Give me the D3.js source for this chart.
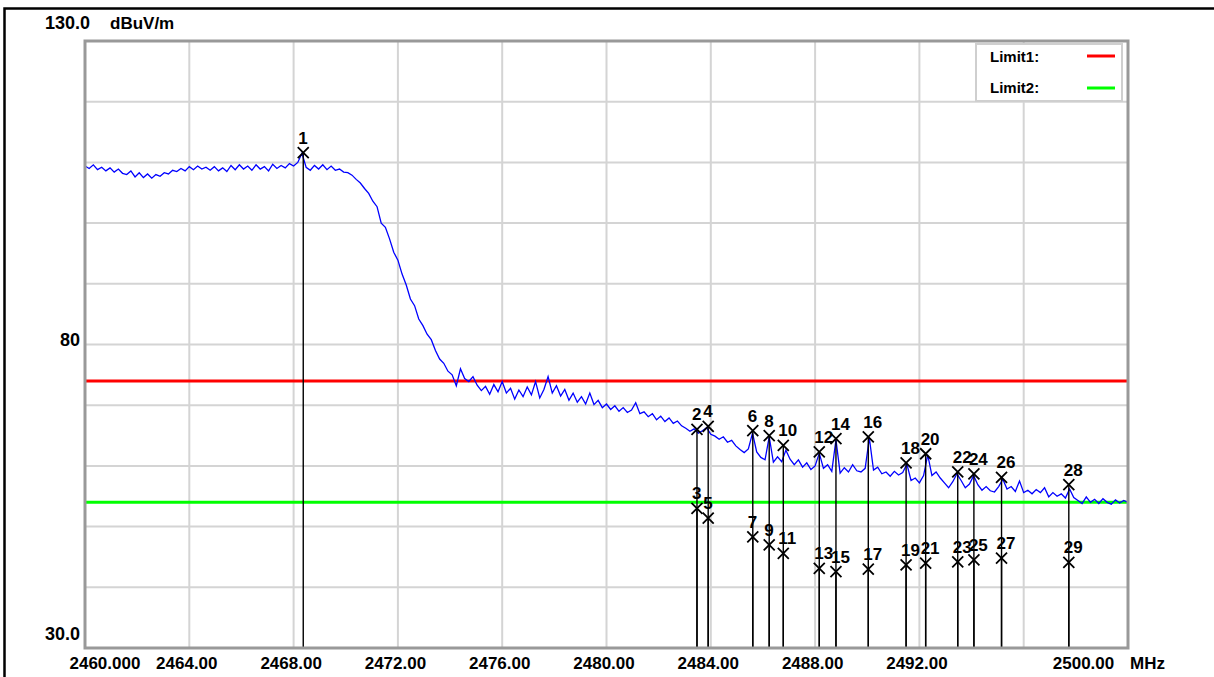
<!DOCTYPE html>
<html>
<head>
<meta charset="utf-8">
<script src="https://cdnjs.cloudflare.com/ajax/libs/d3/7.8.5/d3.min.js"></script>
<style>
  body { margin: 0; background: #fff; overflow: hidden; }
  svg { display: block; }
  text { font-family: "Liberation Sans", Arial, sans-serif; font-weight: bold; fill: #000; }
</style>
</head>
<body>
<div id="chart"></div>
<script>
// spectrum sweep (dBuV/m), one point every 0.16 MHz from 2460 MHz
var traceStart = 2460, traceStep = 0.16;
var traceLevel = [
  109.4, 109.0, 109.6, 108.8, 109.2, 108.6, 109.1, 108.4, 108.9, 108.2,
  108.0, 108.6, 107.6, 108.3, 107.5, 108.1, 107.4, 108.0, 107.7, 108.3,
  108.1, 108.7, 108.5, 109.0, 108.6, 109.3, 108.8, 109.4, 108.9, 109.2,
  108.7, 109.3, 108.6, 109.1, 108.5, 109.5, 108.8, 109.6, 108.9, 109.4,
  108.7, 109.6, 108.9, 109.3, 108.6, 109.7, 109.0, 109.5, 109.1, 109.8,
  109.4, 110.0, 111.5, 109.2, 108.7, 109.5, 108.9, 109.6, 108.8, 109.4,
  108.7, 108.9, 108.4, 108.3, 107.9, 107.2, 106.6, 105.7, 104.9, 103.6,
  102.7, 100.0, 99.3, 97.4, 95.2, 93.9, 91.6, 89.8, 87.5, 86.4,
  84.2, 83.1, 81.7, 80.8, 79.0, 77.6, 76.9, 75.6, 75.0, 73.2,
  76.0, 74.4, 73.9, 74.7, 73.3, 72.4, 73.1, 71.8, 73.4, 72.2,
  73.9, 72.0, 72.8, 71.0, 72.5, 71.4, 73.0, 71.7, 73.9, 71.2,
  72.6, 74.7, 72.0, 73.2, 71.5, 72.6, 70.8, 72.0, 70.5, 71.4,
  70.2, 72.0, 70.1, 70.8, 69.6, 70.2, 69.3, 69.9, 69.0, 69.6,
  68.8, 69.2, 70.4, 68.6, 68.9, 68.1, 68.6, 67.6, 68.2, 67.3,
  67.9, 67.0, 67.4, 66.6, 66.2, 65.7, 66.1, 65.4, 65.8, 66.3,
  65.2, 64.9, 64.4, 64.8, 63.9, 64.2, 63.3, 62.7, 62.2, 62.8,
  65.4, 62.3, 61.4, 61.0, 64.8, 60.6, 61.5, 60.7, 62.6, 61.1,
  60.2, 61.0, 59.8, 60.5, 59.4, 60.0, 62.1, 59.6, 60.2, 59.1,
  64.3, 58.8, 59.7, 59.0, 60.2, 59.2, 59.0, 59.6, 64.6, 59.3,
  59.8, 58.7, 59.0, 58.3, 59.1, 58.5, 58.9, 60.3, 57.6, 58.0,
  57.2, 58.4, 61.8, 58.4, 59.0, 58.0, 57.2, 56.4, 57.4, 58.7,
  57.6, 56.4, 57.0, 58.4, 56.9, 56.0, 56.6, 55.9, 55.7, 56.6,
  57.8, 56.2, 56.6, 55.8, 57.5, 55.6, 56.0, 55.4, 56.1, 55.6,
  56.4, 54.9, 55.6, 55.0, 55.4, 54.7, 56.2, 54.8, 54.3, 53.8,
  54.9, 54.0, 54.5, 53.8, 54.6, 54.0, 53.7, 54.4, 53.9, 54.3,
  54.0
];

// markers
var markerNo = [1, 2, 3, 4, 5, 6, 7, 8, 9, 10, 11, 12, 13, 14, 15, 16, 17, 18, 19, 20, 21, 22, 23, 24, 25, 26, 27, 28, 29];
var markerFreq = [2468.37, 2483.47, 2483.47, 2483.90, 2483.90, 2485.61, 2485.61, 2486.24, 2486.24, 2486.78, 2486.78,
                  2488.16, 2488.16, 2488.80, 2488.80, 2490.04, 2490.04, 2491.49, 2491.49, 2492.24, 2492.24,
                  2493.47, 2493.47, 2494.09, 2494.09, 2495.15, 2495.15, 2497.73, 2497.73];
var markerLevel = [111.6, 66.0, 53.0, 66.5, 51.4, 65.8, 48.3, 65.0, 47.0, 63.4, 45.6,
                   62.3, 43.1, 64.5, 42.6, 64.8, 43.0, 60.5, 43.7, 62.0, 44.0,
                   59.0, 44.2, 58.7, 44.5, 58.1, 44.8, 56.9, 44.1];

// limits
var limitNames = ["Limit1:", "Limit2:"];
var limitValues = [74, 54];
var limitColors = ["#ff0000", "#00ff00"];

// axis labels
var xTickValues = [2460, 2464, 2468, 2472, 2476, 2480, 2484, 2488, 2492, 2500];
var xTickLabels = ["2460.000", "2464.00", "2468.00", "2472.00", "2476.00", "2480.00", "2484.00", "2488.00", "2492.00", "2500.00"];
var yTickValues = [130, 80, 30];
var yTickLabels = ["130.0", "80", "30.0"];

var W = 1214, H = 677;
var plot = { left: 85, right: 1128, top: 41, bottom: 648 };

var svg = d3.select("#chart").append("svg")
  .attr("width", W)
  .attr("height", H);

svg.append("rect").attr("width", W).attr("height", H).attr("fill", "#fff");

// outer frame (left + top)
svg.append("path")
  .attr("d", "M4.5," + H + "V8.5H" + W)
  .attr("fill", "none")
  .attr("stroke", "#000")
  .attr("stroke-width", 2.5);

var x = d3.scaleLinear().domain([2460, 2500]).range([plot.left, plot.right]);
var y = d3.scaleLinear().domain([30, 130]).range([plot.bottom, plot.top]);

// grid
svg.append("g").selectAll("line")
  .data(d3.range(2464, 2500, 4))
  .enter().append("line")
  .attr("x1", function(d) { return x(d); })
  .attr("x2", function(d) { return x(d); })
  .attr("y1", plot.top)
  .attr("y2", plot.bottom)
  .attr("stroke", "#d4d4d4")
  .attr("stroke-width", 2);

svg.append("g").selectAll("line")
  .data(d3.range(40, 130, 10))
  .enter().append("line")
  .attr("y1", function(d) { return y(d); })
  .attr("y2", function(d) { return y(d); })
  .attr("x1", plot.left)
  .attr("x2", plot.right)
  .attr("stroke", "#d4d4d4")
  .attr("stroke-width", 2);

// limit lines
svg.append("g").selectAll("line")
  .data(limitValues)
  .enter().append("line")
  .attr("x1", plot.left)
  .attr("x2", plot.right)
  .attr("y1", function(d) { return y(d); })
  .attr("y2", function(d) { return y(d); })
  .attr("stroke", function(d, i) { return limitColors[i]; })
  .attr("stroke-width", 3);

// trace
var line = d3.line()
  .x(function(d, i) { return x(traceStart + i * traceStep); })
  .y(function(d) { return y(d); });

svg.append("path")
  .datum(traceLevel)
  .attr("d", line)
  .attr("fill", "none")
  .attr("stroke", "#0000ff")
  .attr("stroke-width", 1.3);

// marker stems
var markers = markerNo.map(function(n, i) {
  return { n: n, f: markerFreq[i], v: markerLevel[i] };
});

svg.append("g").selectAll("line")
  .data(markers)
  .enter().append("line")
  .attr("x1", function(d) { return x(d.f); })
  .attr("x2", function(d) { return x(d.f); })
  .attr("y1", function(d) { return y(d.v); })
  .attr("y2", plot.bottom)
  .attr("stroke", "#000")
  .attr("stroke-width", 1.4);

var mk = svg.append("g").selectAll("g")
  .data(markers)
  .enter().append("g")
  .attr("transform", function(d) { return "translate(" + x(d.f) + "," + y(d.v) + ")"; });

mk.append("path")
  .attr("d", "M-5.5,-5.5L5.5,5.5M-5.5,5.5L5.5,-5.5")
  .attr("stroke", "#000")
  .attr("stroke-width", 1.8)
  .attr("fill", "none");

mk.append("text")
  .attr("x", -5)
  .attr("y", -9)
  .style("font-size", "17px")
  .text(function(d) { return d.n; });

// plot frame
svg.append("rect")
  .attr("x", plot.left)
  .attr("y", plot.top)
  .attr("width", plot.right - plot.left)
  .attr("height", plot.bottom - plot.top)
  .attr("fill", "none")
  .attr("stroke", "#999")
  .attr("stroke-width", 3);

// legend
var lg = svg.append("g");
lg.append("rect")
  .attr("x", 976).attr("y", 44)
  .attr("width", 146).attr("height", 57)
  .attr("fill", "#fff")
  .attr("stroke", "#cfcfcf")
  .attr("stroke-width", 2);

lg.selectAll("text")
  .data(limitNames)
  .enter().append("text")
  .attr("x", 990)
  .attr("y", function(d, i) { return 62 + i * 31; })
  .style("font-size", "15px")
  .text(function(d) { return d; });

lg.selectAll("line")
  .data(limitColors)
  .enter().append("line")
  .attr("x1", 1087).attr("x2", 1115)
  .attr("y1", function(d, i) { return 56 + i * 32; })
  .attr("y2", function(d, i) { return 56 + i * 32; })
  .attr("stroke", function(d) { return d; })
  .attr("stroke-width", 3);

// x axis labels
var xAxis = d3.axisBottom(x)
  .tickValues(xTickValues)
  .tickSize(0)
  .tickPadding(0)
  .tickFormat(function(d, i) { return xTickLabels[i]; });

var gx = svg.append("g")
  .attr("transform", "translate(0," + plot.bottom + ")")
  .call(xAxis);
gx.select(".domain").remove();
gx.selectAll("text")
  .attr("y", 21)
  .attr("dy", null)
  .style("font-size", "17px")
  .style("font-family", "'Liberation Sans', Arial, sans-serif")
  .attr("text-anchor", function(d, i) { return i === 0 ? "start" : "middle"; })
  .attr("dx", function(d, i) {
    if (i === 0) return -16;
    if (i === xTickValues.length - 1) return -45;
    return -3;
  });

svg.append("text")
  .attr("x", x(2500) + 2)
  .attr("y", plot.bottom + 21)
  .style("font-size", "17px")
  .text("MHz");

// y labels
svg.append("text")
  .attr("x", 45)
  .attr("y", y(yTickValues[0]) - 12)
  .style("font-size", "18px")
  .text(yTickLabels[0]);

svg.append("text")
  .attr("x", 110)
  .attr("y", y(yTickValues[0]) - 12)
  .style("font-size", "17px")
  .text("dBuV/m");

svg.append("text")
  .attr("x", 80)
  .attr("y", y(yTickValues[1]) + 1.5)
  .attr("text-anchor", "end")
  .style("font-size", "18px")
  .text(yTickLabels[1]);

svg.append("text")
  .attr("x", 80)
  .attr("y", y(yTickValues[2]) - 8)
  .attr("text-anchor", "end")
  .style("font-size", "18px")
  .text(yTickLabels[2]);
</script>
</body>
</html>
